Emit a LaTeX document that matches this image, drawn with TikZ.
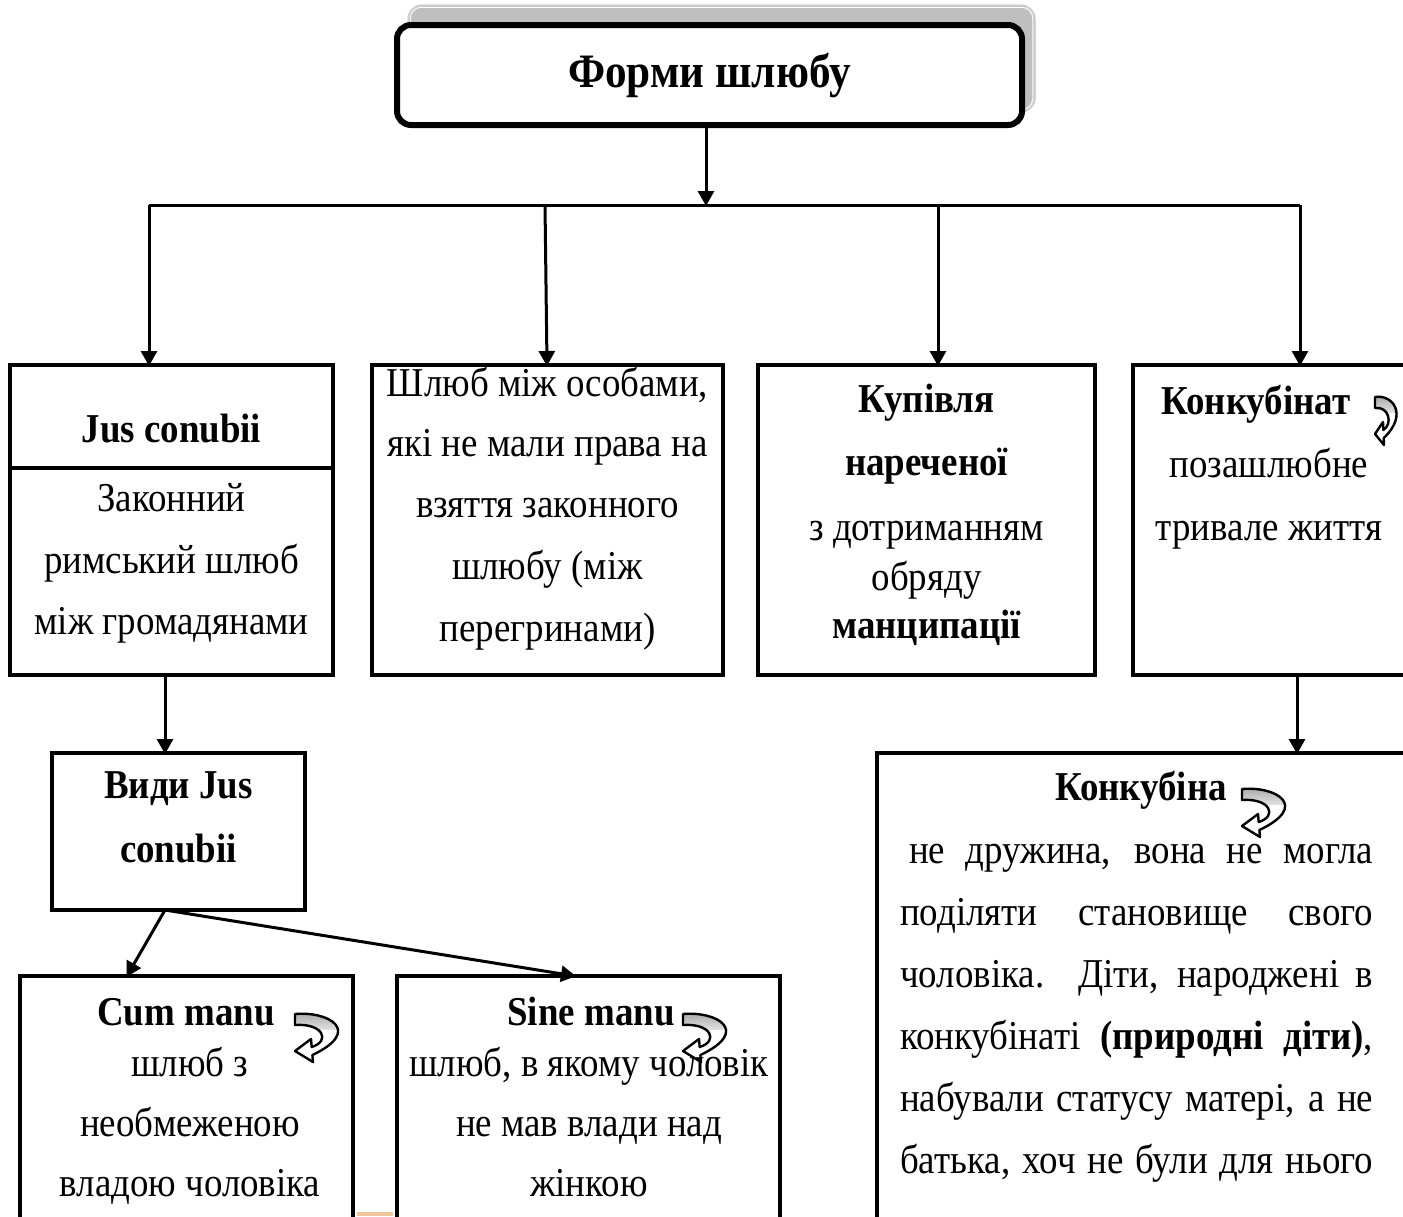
\documentclass[tikz,border=0pt]{standalone}
\usepackage{fontspec}
\setmainfont{Liberation Serif}[FakeStretch=0.9]
\usetikzlibrary{arrows.meta}
\def\uturnpath{(0,1) .. controls (34,-2) and (68,18) .. (17.4,42) -- (18,49) -- (0,38) -- (16,26) -- (16.7,34) .. controls (36,28) and (28,10) .. (0,12) -- cycle}
\tikzset{
  x=1pt, y=-1pt,
  box/.style={draw, line width=3.3pt, inner sep=0pt, outer sep=0pt, anchor=north west},
  conn/.style={line width=3pt},
  arr/.style={line width=3pt, -{Triangle[length=15pt,width=16pt]}, shorten >=-1pt},
  txt/.style={font=\fontsize{41}{48}\selectfont, inner sep=0pt, anchor=base},
  btxt/.style={txt, font=\fontsize{41}{48}\selectfont\bfseries},
  jline/.style={txt, anchor=base west},
  uturn/.pic={
    \fill[white] \uturnpath;
    \begin{scope}
      \clip \uturnpath;
      \shade[top color=gray!75, bottom color=gray!25] (-3,-3) rectangle (70,16);
    \end{scope}
    \draw[line width=2.4pt, line join=round] \uturnpath;
  }
}
\begin{document}
\begin{tikzpicture}
\useasboundingbox[fill=white] (0,0) rectangle (1403,1216);
% title
\node[fill=gray!50, draw=gray!35, line width=1.5pt, rounded corners=14pt, minimum width=627pt, minimum height=107pt, inner sep=0pt] (shadow) at (721.5,58.5) {};
\draw[white, line width=1pt, rounded corners=11pt] ([shift={(3,3)}]shadow.north west) rectangle ([shift={(-3,-3)}]shadow.south east);
\node[draw, fill=white, line width=6pt, rounded corners=14pt, minimum width=625pt, minimum height=100pt, inner sep=0pt, font=\fontsize{48}{56}\selectfont\bfseries] (title) at (709.5,75) {Форми шлюбу};

% bus
\coordinate (bus) at (706,205);
\coordinate (busL) at (149,205);
\coordinate (busR) at (1300,205);
\coordinate (c2) at (545,205);
\coordinate (c3) at (938,205);

% row 1 boxes
\node[box, minimum width=323pt, minimum height=310pt] (b1) at (10,365) {};
\draw[line width=3.3pt] (b1.west |- 0,468) -- (b1.east |- 0,468);
\node[box, minimum width=351pt, minimum height=310pt] (b2) at (372,365) {};
\node[box, minimum width=337pt, minimum height=310pt] (b3) at (758,365) {};
\node[box, minimum width=290pt, minimum height=310pt] (b4) at (1133,365) {};

% second level
\node[box, minimum width=253pt, minimum height=157pt] (v) at (52,753) {};
\node[box, minimum width=543pt, minimum height=480pt] (kb) at (877,753) {};
\node[box, minimum width=333pt, minimum height=260pt] (cum) at (20,976) {};
\node[box, minimum width=383pt, minimum height=260pt] (sine) at (397,976) {};
\fill[brown!55!orange!45] (357,1212) rectangle (393,1216);

% connectors
\draw[arr] (title.south -| bus) -- (bus);
\draw[conn] (busL) -- (busR);
\draw[arr] (busL) -- (busL |- b1.north);
\draw[arr] (c2) -- (547,0 |- b2.north);
\draw[arr] (c3) -- (c3 |- b3.north);
\draw[arr] (busR) -- (busR |- b4.north);
\draw[arr] (165,0 |- b1.south) -- (165,0 |- v.north);
\draw[arr] (1297,0 |- b4.south) -- (1297,0 |- kb.north);
\draw[arr] (165,0 |- v.south) -- (127,0 |- cum.north);
\draw[arr] (165,0 |- v.south) -- (575,0 |- sine.north);

% box 1 texts
\node[btxt] (t11) at (171.5,442) {Jus conubii};
\node[txt] (t12) at (171.5,511) {Законний};
\node[txt] (t13) at (171.5,573) {римський шлюб};
\node[txt] (t14) at (171.5,634) {між громадянами};
% box 2
\node[txt] (t21) at (547.5,396) {Шлюб між особами,};
\node[txt] (t22) at (547.5,456) {які не мали права на};
\node[txt] (t23) at (547.5,517) {взяття законного};
\node[txt] (t24) at (547.5,579) {шлюбу (між};
\node[txt] (t25) at (547.5,641) {перегринами)};
% box 3
\node[btxt] (t31) at (926.5,412) {Купівля};
\node[btxt] (t32) at (926.5,475) {нареченої};
\node[txt] (t33) at (926.5,540) {з дотриманням};
\node[txt] (t34) at (926.5,590) {обряду};
\node[btxt] (t35) at (926.5,638) {манципації};
% box 4
\node[btxt] (t41) at (1256,414) {Конкубінат};
\pic[xscale=0.5] at (1375,396) {uturn};
\node[txt] (t42) at (1269,477) {позашлюбне};
\node[txt] (t43) at (1269,540) {тривале життя};
% Види
\node[btxt] (tv1) at (178.5,798) {Види Jus};
\node[btxt] (tv2) at (178.5,862) {conubii};
% Cum manu
\node[btxt] (tc1) at (186,1025) {Cum manu};
\pic at (295,1013) {uturn};
\node[txt] (tc2) at (190,1076) {шлюб з};
\node[txt] (tc3) at (190,1136) {необмеженою};
\node[txt] (tc4) at (190,1196) {владою чоловіка};
% Sine manu
\node[btxt] (ts1) at (591,1025) {Sine manu};
\pic at (683,1013) {uturn};
\node[txt] (ts2) at (589,1076) {шлюб, в якому чоловік};
\node[txt] (ts3) at (589,1136) {не мав влади над};
\node[txt] (ts4) at (589,1196) {жінкою};
% Конкубіна
\node[btxt] (tk0) at (1141,800) {Конкубіна};
\pic at (1242,788) {uturn};
\node[jline] (tk1) at (909,863) {\makebox[464pt][s]{не дружина, вона не могла}};
\node[jline] (tk2) at (900,925) {\makebox[473pt][s]{поділяти становище свого}};
\node[jline] (tk3) at (900,987) {\makebox[473pt][s]{чоловіка. Діти, народжені в}};
\node[jline] (tk4) at (900,1049) {\makebox[473pt][s]{конкубінаті \textbf{(природні діти)},}};
\node[jline] (tk5) at (900,1111) {\makebox[473pt][s]{набували статусу матері, а не}};
\node[jline] (tk6) at (900,1173) {\makebox[473pt][s]{батька, хоч не були для нього}};
\end{tikzpicture}
\end{document}
